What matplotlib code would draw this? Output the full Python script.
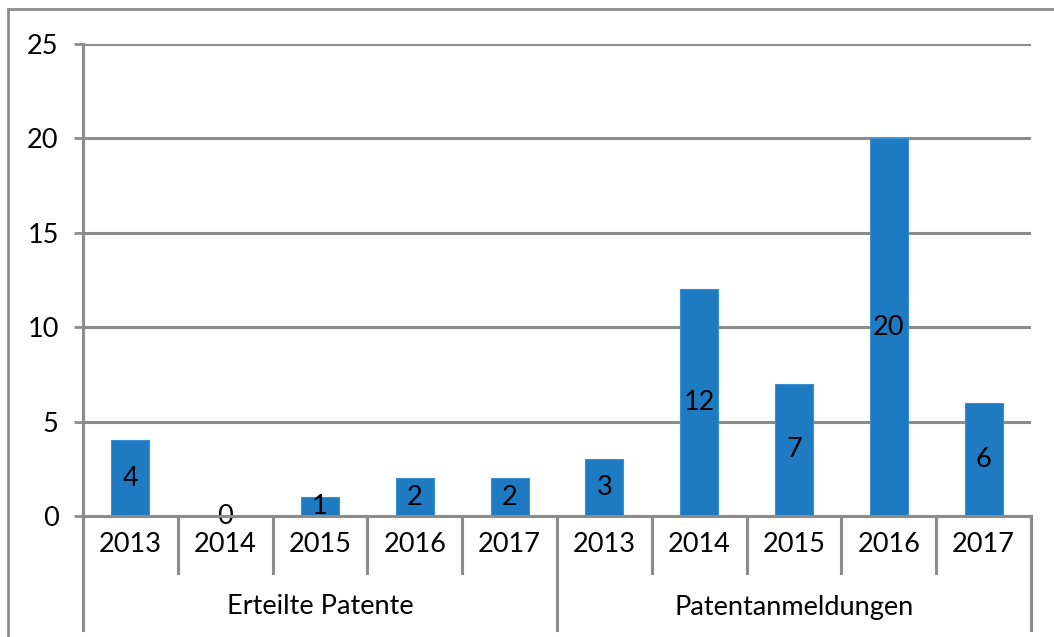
import matplotlib
matplotlib.use("Agg")
import matplotlib.pyplot as plt
from matplotlib.lines import Line2D
import numpy as np

groups = ["Erteilte Patente", "Patentanmeldungen"]
years = ["2013", "2014", "2015", "2016", "2017"]
erteilt = [4, 0, 1, 2, 2]
anmeldungen = [3, 12, 7, 20, 6]
yticks = [0, 5, 10, 15, 20, 25]

values = erteilt + anmeldungen
labels = years + years

plt.rcParams['font.family'] = ['Lato', 'DejaVu Sans']

W, H = 1054, 637
fs = 19.5
fig = plt.figure(figsize=(W / 100, H / 100), dpi=100)
ax_left, ax_right, ax_top, ax_bottom = 83, 1031, 44, 516
ax = fig.add_axes([ax_left / W, (H - ax_bottom) / H, (ax_right - ax_left) / W, (ax_bottom - ax_top) / H])

grid_c = "#8c8c8c"
bar_c = "#1f7bc1"
n = len(values)
x = np.arange(n)
ax.bar(x, values, width=0.4, color=bar_c, edgecolor="#3b8fd0", linewidth=0.8, zorder=3)
for xi, v in zip(x, values):
    ax.text(xi, v / 2, str(v), ha="center", va="center", fontsize=fs, color="black", zorder=4)

ax.set_xlim(-0.5, n - 0.5)
ax.set_ylim(0, 25)
ax.set_yticks(yticks)
ax.set_yticklabels([str(t) for t in yticks], fontsize=fs)
ax.tick_params(axis="y", length=6.5, width=2, color=grid_c, pad=11)
ax.set_xticks([])
for t in yticks[1:]:
    ax.axhline(t, color=grid_c, lw=2.2, zorder=1)
for s in ["top", "right"]:
    ax.spines[s].set_visible(False)
ax.spines["left"].set_color(grid_c)
ax.spines["left"].set_linewidth(2.2)
ax.spines["bottom"].set_color(grid_c)
ax.spines["bottom"].set_linewidth(2.2)
ax.spines["bottom"].set_zorder(5)

ax_h = ax_bottom - ax_top
trans = ax.get_xaxis_transform()
y_short = -(573 - ax_bottom) / ax_h
y_long = -(630 - ax_bottom) / ax_h
y_year = -(545 - ax_bottom) / ax_h
y_group = -(607 - ax_bottom) / ax_h

for i in range(n + 1):
    b = i - 0.5
    y_end = y_long if i % 5 == 0 else y_short
    ax.add_line(Line2D([b, b], [0, y_end], transform=trans, color=grid_c, lw=2.2, clip_on=False))
for xi, lab in zip(x, labels):
    ax.text(xi, y_year, lab, transform=trans, ha="center", va="center", fontsize=fs)
for gi, g in enumerate(groups):
    ax.text(gi * 5 + 2, y_group, g, transform=trans, ha="center", va="center", fontsize=fs)

# outer chart border (cropped at right and bottom)
fig.add_artist(Line2D([8 / W, 8 / W], [0, 1 - 9 / H], transform=fig.transFigure, color="#8c8c8c", lw=2))
fig.add_artist(Line2D([8 / W, 1], [1 - 9 / H, 1 - 9 / H], transform=fig.transFigure, color="#8c8c8c", lw=2))

fig.savefig("out.png", dpi=100, facecolor="white")
